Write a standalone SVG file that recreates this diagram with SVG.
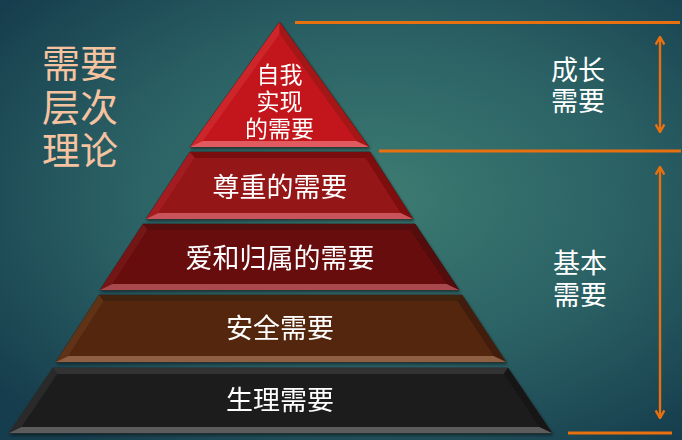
<svg xmlns="http://www.w3.org/2000/svg" width="682" height="440" viewBox="0 0 682 440">
<defs>
<radialGradient id="bg" cx="0.55" cy="0.45" r="0.7">
<stop offset="0" stop-color="#3D7C72"/>
<stop offset="0.55" stop-color="#2A6064"/>
<stop offset="1" stop-color="#163D4D"/>
</radialGradient>
<filter id="sh" x="-10%" y="-10%" width="120%" height="130%">
<feDropShadow dx="1" dy="2" stdDeviation="1.5" flood-color="#000" flood-opacity="0.45"/>
</filter>
<marker id="ah" markerUnits="userSpaceOnUse" viewBox="0 0 10 10" markerWidth="10" markerHeight="10" refX="9.2" refY="5" orient="auto-start-reverse">
<path d="M1.5,0.6 L9.2,5 L1.5,9.4" fill="none" stroke="#E8700F" stroke-width="2.4"/>
</marker>
</defs>
<style>
.out{stroke:#2a2a2a;stroke-width:1;stroke-linejoin:round}
.lbl{font-family:"Liberation Sans","Noto Sans CJK SC",sans-serif;fill:#ffffff;text-anchor:middle}
.ttl{font-family:"Liberation Sans","Noto Sans CJK SC",sans-serif;fill:#F6C3A0;text-anchor:middle;font-size:38px}
.ol{stroke:#E8700F;stroke-width:3;fill:none}
.arr{stroke:#E8700F;stroke-width:2.4;fill:none;marker-start:url(#ah);marker-end:url(#ah)}
</style>
<rect x="0" y="0" width="682" height="440" fill="url(#bg)"/>

<g id="title">
<text class="ttl" x="80" y="77.4"><tspan x="80" y="77.4">需要</tspan><tspan x="80" y="121.4">层次</tspan><tspan x="80" y="164.4">理论</tspan></text>
</g>

<g id="tier1" filter="url(#sh)">
<polygon class="out" points="279.5,22 369,147 190,147" fill="#C3191D"/>
<polygon points="279.5,22 279.5,34 202.8,141 190,147" fill="#CC282C"/>
<polygon points="279.5,22 369,147 356.2,141 279.5,34" fill="#A51417"/>
<polygon points="202.8,141 356.2,141 369,147 190,147" fill="#E05A5E"/>
<polygon points="279.5,34 356.2,141 202.8,141" fill="#C3191D"/>
<text class="lbl" x="279.5" y="82.7" font-size="23"><tspan x="279.5" y="82.7">自我</tspan><tspan x="279.5" y="109.7">实现</tspan><tspan x="279.5" y="136.7">的需要</tspan></text>
</g>

<g id="tier2" filter="url(#sh)">
<polygon class="out" points="190,152 370,152 413,219 146,219" fill="#951517"/>
<polygon points="190,152 370,152 365.4,158 194.6,158" fill="#7A0F11"/>
<polygon points="190,152 194.6,158 158.4,213 146,219" fill="#A21E21"/>
<polygon points="370,152 413,219 400.6,213 365.4,158" fill="#7E0E10"/>
<polygon points="158.4,213 400.6,213 413,219 146,219" fill="#C8525A"/>
<polygon points="194.6,158 365.4,158 400.6,213 158.4,213" fill="#951517"/>
<text class="lbl" x="280" y="197.3" font-size="27">尊重的需要</text>
</g>

<g id="tier3" filter="url(#sh)">
<polygon class="out" points="143,224 415,224 459,290 100,290" fill="#670C0E"/>
<polygon points="143,224 415,224 410.4,230 147.6,230" fill="#520809"/>
<polygon points="143,224 147.6,230 112.4,284 100,290" fill="#751719"/>
<polygon points="415,224 459,290 446.6,284 410.4,230" fill="#530708"/>
<polygon points="112.4,284 446.6,284 459,290 100,290" fill="#A9484E"/>
<polygon points="147.6,230 410.4,230 446.6,284 112.4,284" fill="#670C0E"/>
<text class="lbl" x="280" y="268.3" font-size="27">爱和归属的需要</text>
</g>

<g id="tier4" filter="url(#sh)">
<polygon class="out" points="99,295 462,295 506,362 56,362" fill="#53280E"/>
<polygon points="99,295 462,295 457.4,301 103.6,301" fill="#41200B"/>
<polygon points="99,295 103.6,301 68.4,356 56,362" fill="#613216"/>
<polygon points="462,295 506,362 493.6,356 457.4,301" fill="#421F0A"/>
<polygon points="68.4,356 493.6,356 506,362 56,362" fill="#8E5E42"/>
<polygon points="103.6,301 457.4,301 493.6,356 68.4,356" fill="#53280E"/>
<text class="lbl" x="280" y="338.3" font-size="27">安全需要</text>
</g>

<g id="tier5" filter="url(#sh)">
<polygon class="out" points="53,368 508,368 552,433 9,433" fill="#1F1F1F"/>
<polygon points="53,368 508,368 503.6,374 57.4,374" fill="#333333"/>
<polygon points="53,368 57.4,374 21.6,427 9,433" fill="#2A2A2A"/>
<polygon points="508,368 552,433 539.4,427 503.6,374" fill="#161616"/>
<polygon points="21.6,427 539.4,427 552,433 9,433" fill="#5C5C5C"/>
<polygon points="57.4,374 503.6,374 539.4,427 21.6,427" fill="#1F1F1F"/>
<text class="lbl" x="280" y="410.3" font-size="27">生理需要</text>
</g>

<g id="growth">
<text class="lbl" x="578" y="79.8" font-size="27"><tspan x="578" y="79.8">成长</tspan><tspan x="578" y="110.8">需要</tspan></text>
</g>
<g id="basic">
<text class="lbl" x="580" y="273.3" font-size="27"><tspan x="580" y="273.3">基本</tspan><tspan x="580" y="305.3">需要</tspan></text>
</g>

<g id="connectors">
<line class="ol" x1="295" y1="22.5" x2="680" y2="22.5"/>
<line class="ol" x1="379" y1="151" x2="681" y2="151"/>
<line class="ol" x1="568" y1="433" x2="672" y2="433"/>
<line class="arr" x1="660" y1="37" x2="660" y2="132"/>
<line class="arr" x1="660" y1="167" x2="660" y2="418"/>
</g>
</svg>
